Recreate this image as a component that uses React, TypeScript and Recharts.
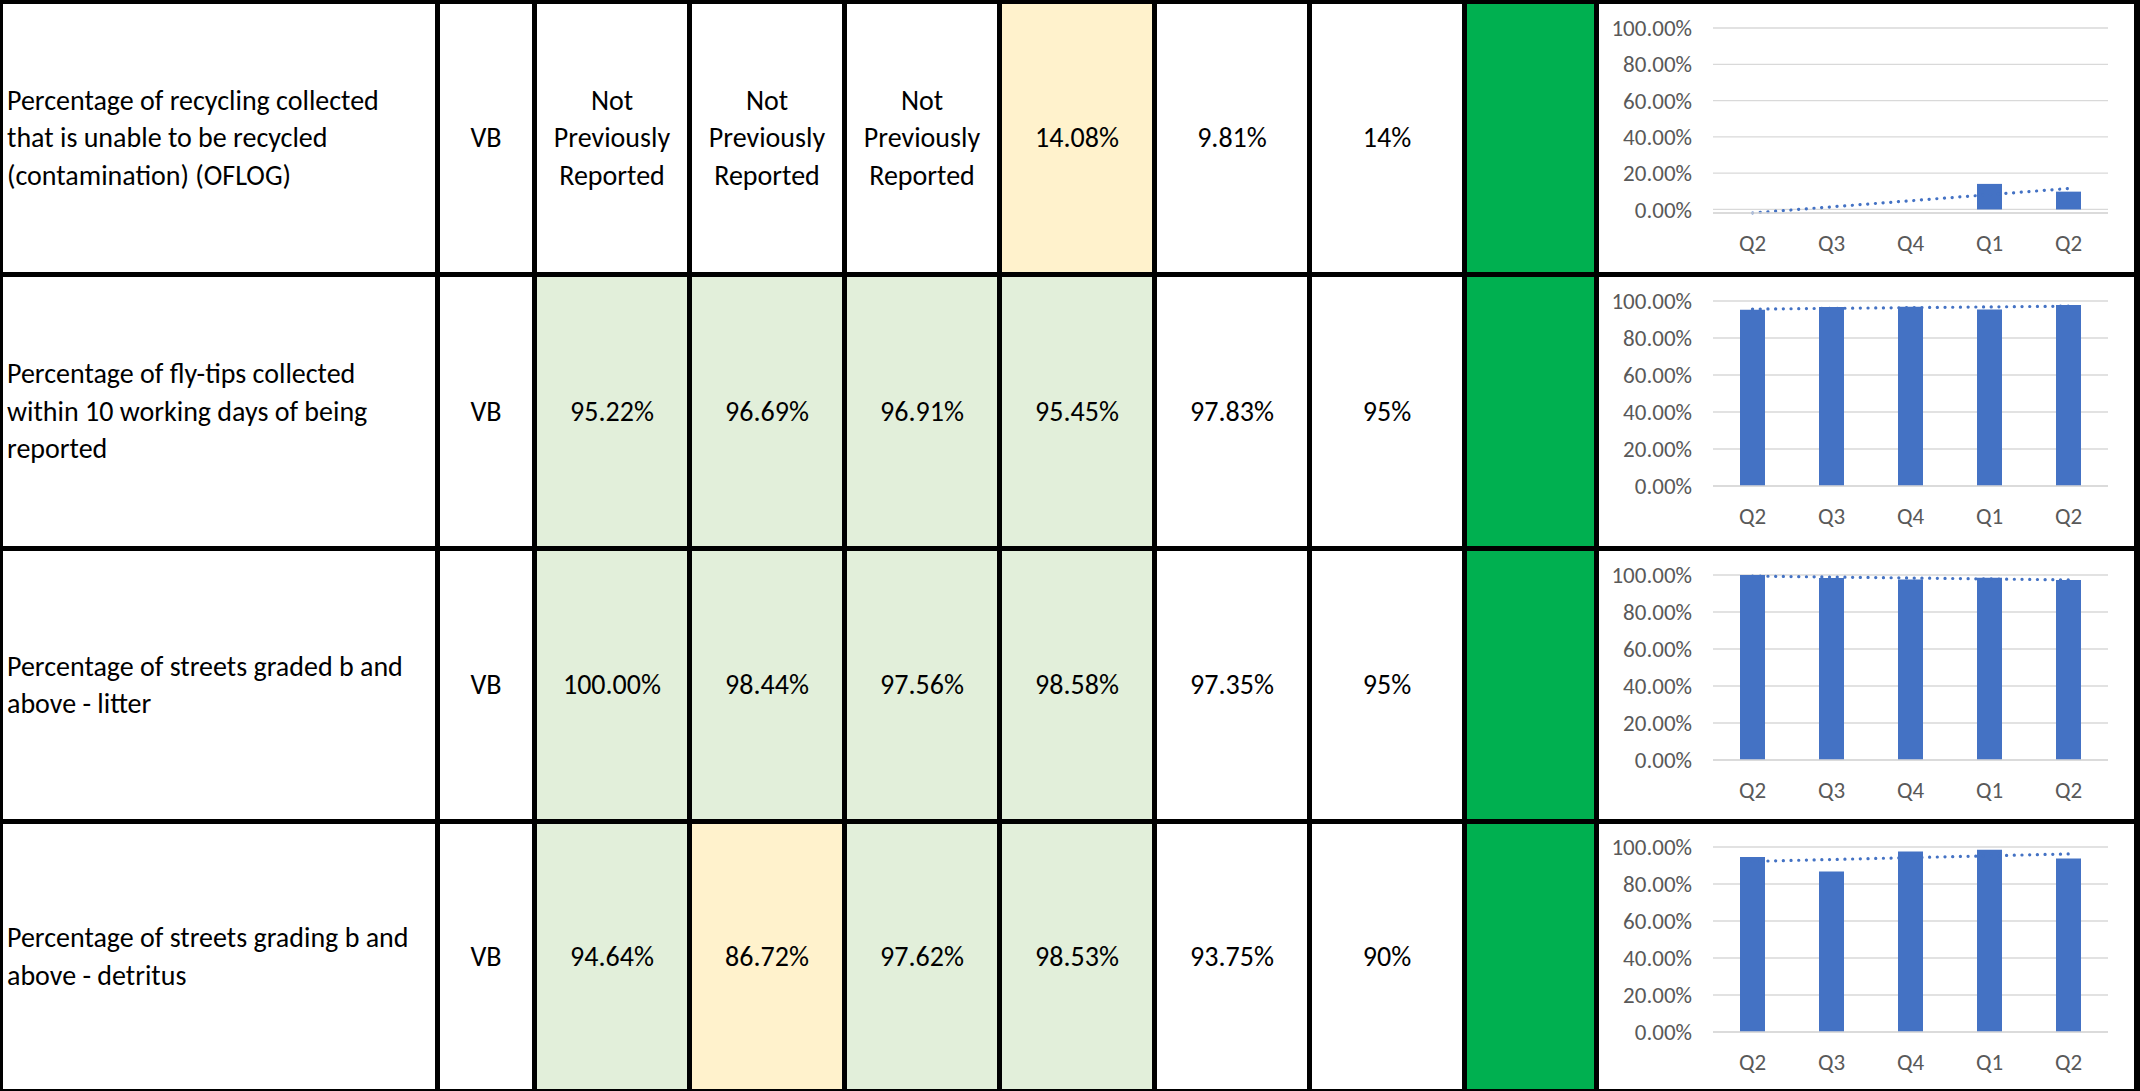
import React from "react";
import { ComposedChart, Bar, Line, XAxis, YAxis, CartesianGrid } from "recharts";

// quarter categories shown under every mini chart
const quarters = ["Q2", "Q3", "Q4", "Q1", "Q2"];
const yTicks = [0, 20, 40, 60, 80, 100];

const measureLabels: string[][] = [
  ["Percentage of recycling collected", "that is unable to be recycled", "(contamination) (OFLOG)"],
  ["Percentage of fly-tips collected", "within 10 working days of being", "reported"],
  ["Percentage of streets graded b and", "above - litter"],
  ["Percentage of streets grading b and", "above - detritus"],
];
const owners = ["VB", "VB", "VB", "VB"];

const previousValues: string[][] = [
  ["Not Previously Reported", "Not Previously Reported", "Not Previously Reported", "14.08%"],
  ["95.22%", "96.69%", "96.91%", "95.45%"],
  ["100.00%", "98.44%", "97.56%", "98.58%"],
  ["94.64%", "86.72%", "97.62%", "98.53%"],
];
const previousStatus: string[][] = [
  ["none", "none", "none", "amber"],
  ["green", "green", "green", "green"],
  ["green", "green", "green", "green"],
  ["green", "amber", "green", "green"],
];
const currentValues = ["9.81%", "97.83%", "97.35%", "93.75%"];
const targets = ["14%", "95%", "95%", "90%"];

// chart series (percent); text cells count as 0 in the sheet chart
const recyclingSeries = [0, 0, 0, 14.08, 9.81];
const flyTipSeries = [95.22, 96.69, 96.91, 95.45, 97.83];
const litterSeries = [100.0, 98.44, 97.56, 98.58, 97.35];
const detritusSeries = [94.64, 86.72, 97.62, 98.53, 93.75];
const chartSeries = [recyclingSeries, flyTipSeries, litterSeries, detritusSeries];

const FONT = "Carlito, Calibri, Lato, sans-serif";
const BLUE = "#4472C4";
const statusFill: Record<string, string> = {
  none: "#FFFFFF",
  green: "#E2EFDA",
  amber: "#FFF2CC",
};

// layout of the sheet (borders and cell spans)
const colEdges = [3, 435, 532, 687, 842, 997, 1152, 1307, 1462, 1594, 2134];
const rowTops = [4, 277, 551, 824];
const rowBottoms = [272, 546, 819, 1089];
const vLines: [number, number][] = [
  [0, 3], [435, 5], [532, 5], [687, 5], [842, 5], [997, 5],
  [1152, 5], [1307, 5], [1462, 5], [1594, 5], [2134, 6],
];
const hLines: [number, number][] = [[0, 4], [272, 5], [546, 5], [819, 5], [1089, 2]];

// least squares trendline, like the spreadsheet's linear trendline
function linearTrend(values: number[]) {
  const n = values.length;
  const mx = (n - 1) / 2;
  const my = values.reduce((a, b) => a + b, 0) / n;
  let sxy = 0;
  let sxx = 0;
  values.forEach((v, i) => {
    sxy += (i - mx) * (v - my);
    sxx += (i - mx) * (i - mx);
  });
  const slope = sxy / sxx;
  return values.map((_, i) => my + slope * (i - mx));
}

const MiniChart: React.FC<{ values: number[]; width: number; height: number }> = ({
  values,
  width,
  height,
}) => {
  const trend = linearTrend(values);
  const data = quarters.map((q, i) => ({ q, value: values[i], trend: trend[i] }));
  const top = height < 268 ? 23 : 24;
  const plotH = 185;
  return (
    <ComposedChart
      width={width}
      height={height}
      data={data}
      margin={{ top, right: 26, left: 0, bottom: 0 }}
    >
      <CartesianGrid vertical={false} stroke="#D9D9D9" strokeWidth={1.3} />
      <XAxis
        dataKey="q"
        height={height - top - plotH}
        axisLine={{ stroke: "#D9D9D9", strokeWidth: 1.3 }}
        tickLine={false}
        tickSize={0}
        tickMargin={22}
        tick={{ fill: "#595959", fontSize: 23, fontFamily: FONT }}
        interval={0}
      />
      <YAxis
        type="number"
        domain={[0, 100]}
        ticks={yTicks}
        width={114}
        axisLine={false}
        tickLine={false}
        tickSize={0}
        tickMargin={21}
        tick={{ fill: "#595959", fontSize: 23, fontFamily: FONT }}
        tickFormatter={(v: number) => `${v.toFixed(2)}%`}
      />
      <Bar dataKey="value" fill={BLUE} barSize={25} isAnimationActive={false} />
      <Line
        dataKey="trend"
        type="linear"
        stroke={BLUE}
        strokeWidth={3.2}
        strokeDasharray="0.1 7.6"
        strokeLinecap="round"
        dot={false}
        activeDot={false}
        isAnimationActive={false}
      />
    </ComposedChart>
  );
};

const Cell: React.FC<{
  col: number;
  row: number;
  bg?: string;
  align?: "left" | "center";
  children?: React.ReactNode;
}> = ({ col, row, bg = "#FFFFFF", align = "center", children }) => {
  const x0 = col === 0 ? colEdges[0] : colEdges[col] + 5;
  const x1 = colEdges[col + 1];
  return (
    <div
      style={{
        position: "absolute",
        left: x0,
        top: rowTops[row],
        width: x1 - x0,
        height: rowBottoms[row] - rowTops[row],
        background: bg,
        display: "flex",
        alignItems: "center",
        justifyContent: align === "left" ? "flex-start" : "center",
        textAlign: align,
        boxSizing: "border-box",
        paddingLeft: align === "left" ? 4 : 0,
        fontSize: 28,
        lineHeight: "37.5px",
        color: "#000",
        overflow: "hidden",
      }}
    >
      {children}
    </div>
  );
};

export default function App() {
  return (
    <div
      style={{
        position: "absolute",
        left: 0,
        top: 0,
        width: 2140,
        height: 1091,
        background: "#FFFFFF",
        fontFamily: FONT,
        overflow: "hidden",
      }}
    >
      {measureLabels.map((lines, r) => (
        <React.Fragment key={r}>
          <Cell col={0} row={r} align="left">
            <div style={{ whiteSpace: "nowrap" }}>
              {lines.map((l, i) => (
                <div key={i}>{l}</div>
              ))}
            </div>
          </Cell>
          <Cell col={1} row={r}>
            {owners[r]}
          </Cell>
          {previousValues[r].map((v, c) => (
            <Cell key={c} col={2 + c} row={r} bg={statusFill[previousStatus[r][c]]}>
              <div style={{ width: 130 }}>{v}</div>
            </Cell>
          ))}
          <Cell col={6} row={r}>
            {currentValues[r]}
          </Cell>
          <Cell col={7} row={r}>
            {targets[r]}
          </Cell>
          <Cell col={8} row={r} bg="#00B050" />
          <div
            style={{
              position: "absolute",
              left: colEdges[9] + 5,
              top: rowTops[r],
              width: colEdges[10] - colEdges[9] - 5,
              height: rowBottoms[r] - rowTops[r],
              overflow: "hidden",
            }}
          >
            <MiniChart
              values={chartSeries[r]}
              width={colEdges[10] - colEdges[9] - 5}
              height={rowBottoms[r] - rowTops[r]}
            />
          </div>
        </React.Fragment>
      ))}
      {vLines.map(([x, w], i) => (
        <div
          key={`v${i}`}
          style={{ position: "absolute", left: x, top: 0, width: w, height: 1091, background: "#000" }}
        />
      ))}
      {hLines.map(([y, h], i) => (
        <div
          key={`h${i}`}
          style={{ position: "absolute", left: 0, top: y, width: 2140, height: h, background: "#000" }}
        />
      ))}
    </div>
  );
}
